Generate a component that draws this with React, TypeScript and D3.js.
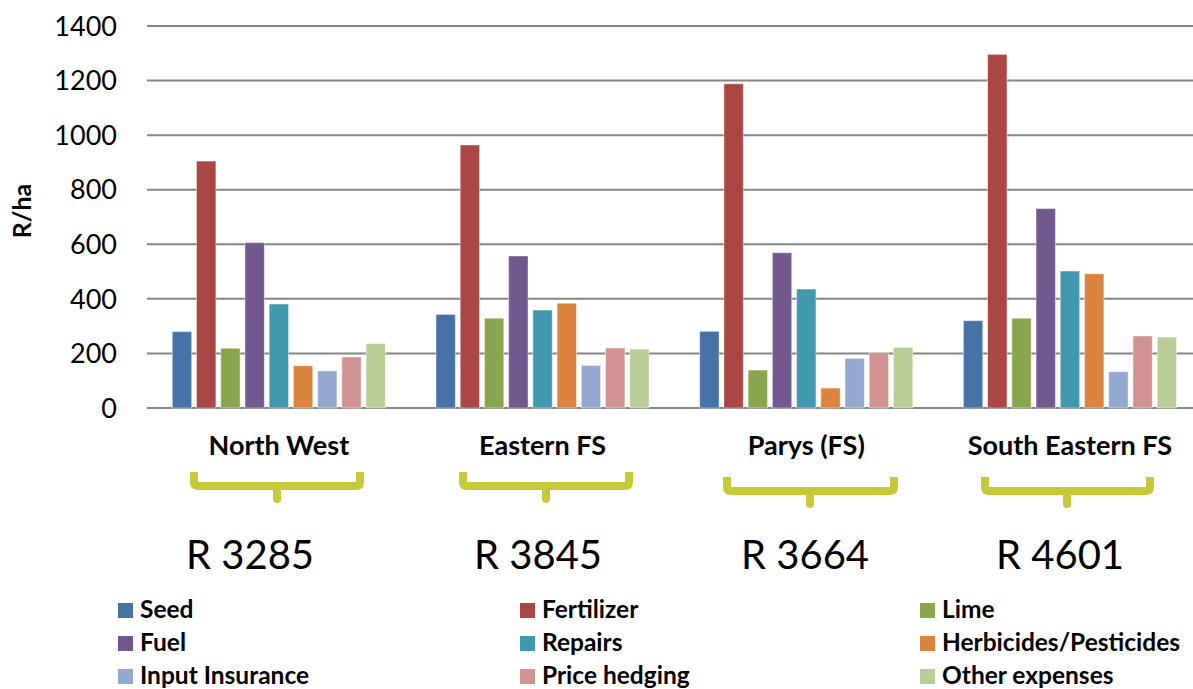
import React from 'react';
import * as d3 from 'd3';

// Regions and the total cost per hectare noted under each one
const regions = ['North West', 'Eastern FS', 'Parys (FS)', 'South Eastern FS'];
const regionTotals = ['R 3285', 'R 3845', 'R 3664', 'R 4601'];

// Cost items (series) in R/ha, one value per region
const seriesNames = [
  'Seed',
  'Fertilizer',
  'Lime',
  'Fuel',
  'Repairs',
  'Herbicides/Pesticides',
  'Input Insurance',
  'Price hedging',
  'Other expenses',
];
const seed = [280, 343, 281, 320];
const fertilizer = [905, 964, 1188, 1296];
const lime = [219, 329, 139, 329];
const fuel = [606, 557, 569, 731];
const repairs = [381, 359, 436, 502];
const herbicides = [155, 384, 73, 492];
const inputInsurance = [136, 156, 182, 133];
const priceHedging = [187, 220, 204, 264];
const otherExpenses = [236, 216, 222, 260];

const yTicks = [0, 200, 400, 600, 800, 1000, 1200, 1400];

const seriesValues = [
  seed,
  fertilizer,
  lime,
  fuel,
  repairs,
  herbicides,
  inputInsurance,
  priceHedging,
  otherExpenses,
];

const colors = [
  '#4572A7',
  '#AA4643',
  '#89A54E',
  '#71588F',
  '#4198AF',
  '#DB843D',
  '#93A9CF',
  '#D19392',
  '#B9CD96',
];

const W = 1193;
const H = 689;
const FONT = 'Lato, "Open Sans", sans-serif';
const BRACE = '#C5C93A';
const GRID = '#868686';

// Hand-placed brace and total annotations under each region
const braceLayout = [
  { left: 194, right: 360, mid: 277, top: 472, bar: 486, bottom: 503 },
  { left: 463, right: 629, mid: 546, top: 472, bar: 486, bottom: 503 },
  { left: 727, right: 894, mid: 810, top: 477, bar: 491, bottom: 508 },
  { left: 985, right: 1150, mid: 1067, top: 477, bar: 491, bottom: 508 },
];
const totalLabelX = [250, 538, 805, 1060];

export default function App() {
  const plotLeft = 147;
  const x0 = d3
    .scaleBand<string>()
    .domain(regions)
    .range([plotLeft, plotLeft + 4 * 263.7])
    .padding(0);
  const x1 = d3
    .scaleBand<string>()
    .domain(seriesNames)
    .range([0, x0.bandwidth()])
    .paddingInner(0.2)
    .paddingOuter(1.044);
  const y = d3.scaleLinear().domain([0, 1400]).range([408, 26]);

  const legendCols = [118, 520, 920];
  const legendRowBase = 618;
  const legendRowStep = 33;

  return (
    <svg
      width={W}
      height={H}
      style={{ position: 'absolute', left: 0, top: 0, background: '#fff' }}
      fontFamily={FONT}
    >
      {/* gridlines and tick labels */}
      {yTicks.map((t) => (
        <g key={t}>
          <line x1={plotLeft} x2={W} y1={y(t)} y2={y(t)} stroke={GRID} strokeWidth={2} />
          <text x={117} y={y(t)} dy="0.36em" textAnchor="end" fontSize={27} fill="#000">
            {t}
          </text>
        </g>
      ))}

      <text
        transform={`translate(31,211) rotate(-90)`}
        textAnchor="middle"
        fontSize={25}
        fontWeight="bold"
        fill="#000"
      >
        R/ha
      </text>

      {/* bars */}
      {regions.map((r, ri) => (
        <g key={r} transform={`translate(${x0(r)},0)`}>
          {seriesNames.map((s, si) => {
            const v = seriesValues[si][ri];
            return (
              <rect
                key={s}
                x={x1(s)}
                y={y(v)}
                width={x1.bandwidth()}
                height={y(0) - y(v)}
                fill={colors[si]}
                stroke="#ffffff"
                strokeOpacity={0.45}
                strokeWidth={1}
              />
            );
          })}
        </g>
      ))}

      {/* category labels */}
      {regions.map((r) => (
        <text
          key={r}
          x={(x0(r) as number) + x0.bandwidth() / 2}
          y={455}
          textAnchor="middle"
          fontSize={27}
          fontWeight="bold"
          fill="#000"
        >
          {r}
        </text>
      ))}

      {/* braces */}
      {braceLayout.map((b, i) => (
        <g key={i} fill="none" stroke={BRACE} strokeWidth={8}>
          <path
            d={`M${b.left},${b.top} V${b.bar - 4} Q${b.left},${b.bar} ${b.left + 4},${b.bar} H${b.right - 4} Q${b.right},${b.bar} ${b.right},${b.bar - 4} V${b.top}`}
            strokeLinejoin="round"
          />
          <path d={`M${b.mid},${b.bar} V${b.bottom - 4}`} strokeLinecap="round" />
        </g>
      ))}

      {/* totals */}
      {regionTotals.map((t, i) => (
        <text key={t} x={totalLabelX[i]} y={569} textAnchor="middle" fontSize={40} fill="#000">
          {t}
        </text>
      ))}

      {/* legend */}
      {seriesNames.map((s, i) => {
        const col = i % 3;
        const row = Math.floor(i / 3);
        const lx = legendCols[col];
        const ly = legendRowBase + row * legendRowStep;
        return (
          <g key={s}>
            <rect x={lx} y={ly - 15} width={15} height={15} fill={colors[i]} />
            <text x={lx + 22} y={ly} fontSize={24.5} fontWeight="bold" fill="#000">
              {s}
            </text>
          </g>
        );
      })}
    </svg>
  );
}
